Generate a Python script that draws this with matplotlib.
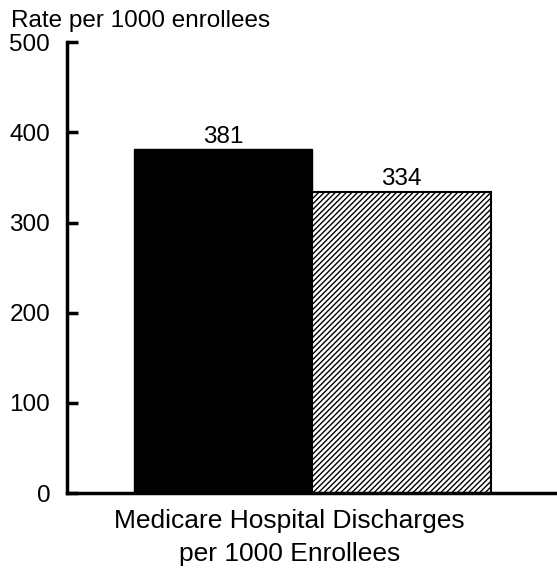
import matplotlib
matplotlib.use('Agg')
import matplotlib.pyplot as plt

plt.rcParams['font.family'] = ['Liberation Sans', 'DejaVu Sans']
plt.rcParams['hatch.linewidth'] = 1.0

# values
values = [381, 334]
value_labels = ['381', '334']
yticks = [0, 100, 200, 300, 400, 500]

fig = plt.figure(figsize=(5.57, 5.71), dpi=100)
ax = fig.add_axes([0.120, 0.1366, 0.880, 0.7895])

ax.bar(0, values[0], width=1, align='edge', color='black', edgecolor='black')
ax.bar(1, values[1], width=1, align='edge', color='white', edgecolor='black',
       hatch='//////', linewidth=1.5)

for i, (v, lab) in enumerate(zip(values, value_labels)):
    ax.text(i + 0.5, v + 2, lab, ha='center', va='bottom', fontsize=17.5)

ax.set_xlim(-0.375, 2.37)
ax.set_ylim(0, 500)
ax.set_yticks(yticks)
ax.set_xticks([])
ax.tick_params(axis='y', direction='in', length=8, width=2.5, labelsize=17.5, pad=12)

for s in ['top', 'right']:
    ax.spines[s].set_visible(False)
ax.spines['left'].set_linewidth(2.5)
ax.spines['bottom'].set_linewidth(2.5)

fig.text(0.02, 0.963, 'Rate per 1000 enrollees', fontsize=17.5, va='center', ha='left')
fig.text(0.52, 0.108, 'Medicare Hospital Discharges\nper 1000 Enrollees', fontsize=19,
         ha='center', va='top', linespacing=1.45)

fig.savefig('out.png', dpi=100)
